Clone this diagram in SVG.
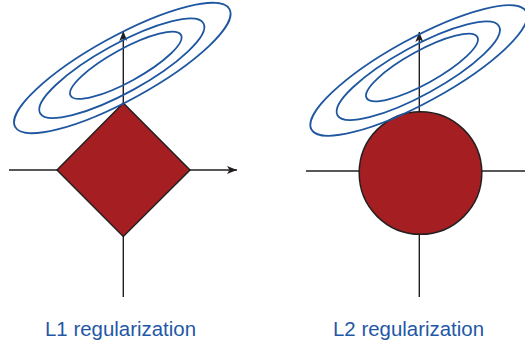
<svg xmlns="http://www.w3.org/2000/svg" width="525" height="348" viewBox="0 0 525 348">
<style>
.ax{stroke:#231f20;stroke-width:1.4;fill:none}
.ct{stroke:#1e56a0;stroke-width:1.8;fill:none}
.sh{fill:#a51e22;stroke:#231f20;stroke-width:1.5}
.lb{font-family:"Liberation Sans",Arial,sans-serif;font-size:20.5px;fill:#1f58a6}
</style>
<defs>
<marker id="arr" viewBox="0 0 10 8" refX="10" refY="4" markerWidth="10" markerHeight="8" markerUnits="userSpaceOnUse" orient="auto">
<path d="M0,0 L10,4 L0,8 L2.5,4 Z" fill="#231f20"/>
</marker>
</defs>
<g id="connectors">
<line class="ax" x1="9" y1="170" x2="237" y2="170" marker-end="url(#arr)"/>
<line class="ax" x1="123.3" y1="297" x2="123.3" y2="31" marker-end="url(#arr)"/>
<line class="ax" x1="306" y1="171" x2="525" y2="171"/>
<line class="ax" x1="419.3" y1="297" x2="419.3" y2="32" marker-end="url(#arr)"/>
</g>
<g id="l1-diamond">
<polygon class="sh" points="123.3,103 190,170 123.3,236.5 57,170"/>
</g>
<g id="l1-contours">
<ellipse class="ct" cx="122.3" cy="68" rx="122.3" ry="31.9" transform="rotate(-28.8 122.3 68)"/>
<ellipse class="ct" cx="121.8" cy="68.3" rx="93.2" ry="24.3" transform="rotate(-28.8 121.8 68.3)"/>
<ellipse class="ct" cx="125.8" cy="65.3" rx="63" ry="16.4" transform="rotate(-28.8 125.8 65.3)"/>
</g>
<g id="l2-circle">
<circle class="sh" cx="420.5" cy="173" r="61.3"/>
</g>
<g id="l2-contours">
<ellipse class="ct" cx="418.8" cy="70.5" rx="122.5" ry="31.9" transform="rotate(-28.8 418.8 70.5)"/>
<ellipse class="ct" cx="418.3" cy="70.8" rx="92.2" ry="24.1" transform="rotate(-28.8 418.3 70.8)"/>
<ellipse class="ct" cx="422" cy="67.5" rx="63.2" ry="16.5" transform="rotate(-28.8 422 67.5)"/>
</g>
<g id="labels">
<text class="lb" x="45" y="336" textLength="151" lengthAdjust="spacingAndGlyphs">L1 regularization</text>
<text class="lb" x="333" y="336" textLength="151" lengthAdjust="spacingAndGlyphs">L2 regularization</text>
</g>
</svg>
